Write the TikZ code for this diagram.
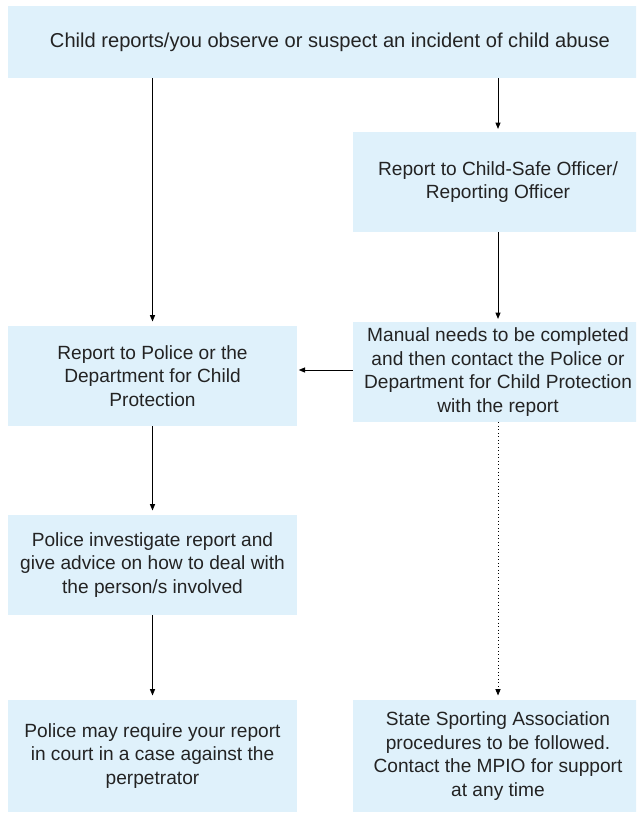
\documentclass[tikz,border=0pt]{standalone}
\usepackage{fontspec}
\setmainfont{Liberation Sans}
\usetikzlibrary{arrows.meta,positioning}
\definecolor{boxblue}{RGB}{223,241,251}
\definecolor{textgrey}{RGB}{35,35,35}

\begin{document}
\begin{tikzpicture}[x=0.025cm,y=-0.025cm,
    box/.style={fill=boxblue, text=textgrey, align=center, inner sep=0pt,
        font=\fontsize{13.6}{16.8}\selectfont},
    leftbox/.style={box, minimum width=7.225cm, minimum height=2.5cm},
    rightbox/.style={box, minimum width=7.25cm, minimum height=2.5cm},
    arr/.style={-{Triangle[length=4.5pt,width=3.6pt]}, line width=0.65pt},
    dotarr/.style={arr, dash pattern=on 0.6pt off 1.9pt}]
    \clip (0,0) rectangle (636,813);
    % Top box
    \node[box, minimum width=16.1cm, minimum height=1.8cm, font=\fontsize{14.3}{16.8}\selectfont] (incident) at (330,42)
        {Child reports/you observe or suspect an incident of child abuse};
    % Right column
    \node[rightbox] (officer) at (498,182) {Report to Child-Safe Officer/\\Reporting Officer};
    \node[rightbox] (manual) at (498,372) {Manual needs to be completed\\and then contact the Police or\\Department for Child Protection\\with the report};
    \node[rightbox, minimum height=2.8cm] (state) at (498,756) {State Sporting Association\\procedures to be followed.\\Contact the MPIO for support\\at any time};
    % Left column
    \node[leftbox] (police) at (152.5,376) {Report to Police or the\\Department for Child\\Protection};
    \node[leftbox] (investigate) at (152.5,565) {Police investigate report and\\give advice on how to deal with\\the person/s involved};
    \node[leftbox, minimum height=2.8cm] (court) at (152.5,756) {Police may require your report\\in court in a case against the\\perpetrator};
    % Arrows
    \draw[arr, shorten >=2pt] (incident.south -| officer) -- (officer.north);
    \draw[arr, shorten >=2pt] (officer.south) -- (manual.north);
    \draw[arr, shorten >=3pt] (incident.south -| police) -- (police.north);
    \draw[arr, shorten >=1pt] (manual.west |- 0,370) -- (police.east |- 0,370);
    \draw[arr, shorten >=3pt] (police.south) -- (investigate.north);
    \draw[arr, shorten >=3pt] (investigate.south) -- (court.north);
    \draw[dotarr, shorten >=3pt] (manual.south) -- (state.north);
\end{tikzpicture}
\end{document}
